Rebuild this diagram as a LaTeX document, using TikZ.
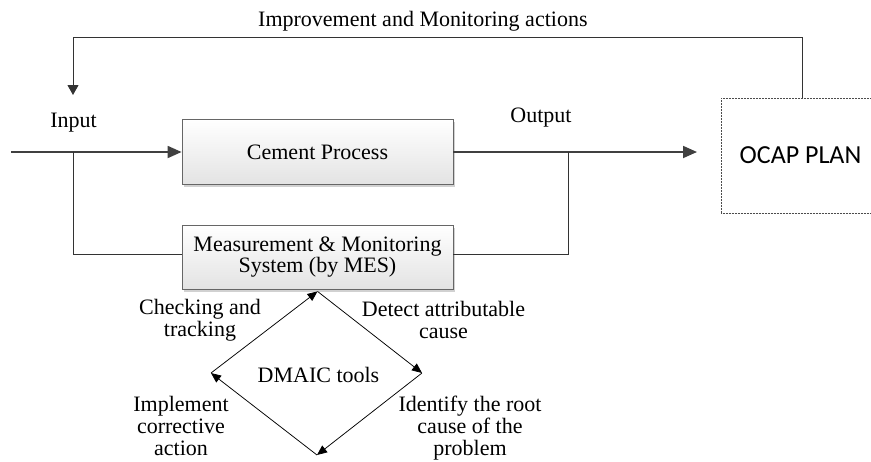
\documentclass[tikz,border=0pt]{standalone}
\usepackage{fontspec}
\setmainfont{Liberation Serif}
\newfontfamily\ocapfont{Carlito}
\usetikzlibrary{arrows.meta,shadows}
\begin{document}
\begin{tikzpicture}[x=1pt,y=-1pt,
  txt/.style={font=\fontsize{22pt}{22pt}\selectfont, inner sep=0pt, align=center},
  procbox/.style={draw=black!60, line width=0.8pt, top color=white, bottom color=black!11,
    minimum width=271pt, inner sep=0pt, align=center,
    font=\fontsize{22pt}{21pt}\selectfont,
    drop shadow={shadow xshift=2pt, shadow yshift=-2.5pt, fill=black, opacity=0.18}},
  planbox/.style={draw=black!70, line width=0.8pt, dash pattern=on 0.8pt off 0.7pt,
    minimum width=159pt, minimum height=115pt, inner sep=0pt,
    font=\ocapfont\fontsize{26pt}{26pt}\selectfont},
  flow/.style={draw=black!75, line width=1.8pt, -{Triangle[length=14pt,width=12pt]}},
  branch/.style={draw=black!80, line width=0.9pt},
  fb/.style={draw=black!80, line width=1pt, -{Triangle[length=10pt,width=11pt]}},
  cyc/.style={draw=black, line width=0.75pt, -{Triangle[length=10pt,width=8.5pt]}}]

\useasboundingbox (0,0) rectangle (871,461);
\clip (0,0) rectangle (871,461);

% process boxes
\node[procbox, minimum height=65pt] (cement) at (317.5,152) {Cement Process};
\node[procbox, minimum height=64pt] (mes) at (317.5,257)
  {Measurement \& Monitoring\\System (by MES)};

% OCAP plan box (runs past the right edge)
\node[planbox] (ocap) at (800.5,155.5) {OCAP PLAN};

% main flow
\coordinate (start) at (11,152);
\coordinate (injn) at (73,152);
\coordinate (outjn) at (568,152);
\coordinate (outtip) at (697,152);
\draw[flow] (start) -- (cement.west);
\draw[flow] (cement.east) -- (outtip);
\draw[branch] (injn) |- ([yshift=3pt]mes.west);
\draw[branch] (outjn) |- ([yshift=3pt]mes.east);

% feedback loop from the plan back to the input
\coordinate (fbcorner) at (73,37);
\coordinate (fbend) at (73,95);
\draw[fb] ([xshift=1.5pt]ocap.north) |- (fbcorner) -- (fbend);

% flow labels
\node[txt, anchor=west] (improve) at (258,21) {Improvement and Monitoring actions};
\node[txt] (inlbl) at (73.5,123) {Input};
\node[txt] (outlbl) at (541,117.5) {Output};

% DMAIC cycle
\coordinate (dt) at ([yshift=-2pt]mes.south);
\coordinate (dr) at (422,373);
\coordinate (db) at (317,455);
\coordinate (dl) at (211,373);
\draw[cyc] (dt) -- (dr);
\draw[cyc] (dr) -- (db);
\draw[cyc] (db) -- (dl);
\draw[cyc] (dl) -- (dt);

\node[txt] (dmaic) at (318.5,375) {DMAIC tools};
\node[txt] (check) at (200,320) {Checking and\\tracking};
\node[txt] (detect) at (443.5,319.5) {Detect attributable\\cause};
\node[txt] (implement) at (181,426) {Implement\\corrective\\action};
\node[txt] (identify) at (470,428) {Identify the root\\cause of the\\problem};
\end{tikzpicture}
\end{document}
